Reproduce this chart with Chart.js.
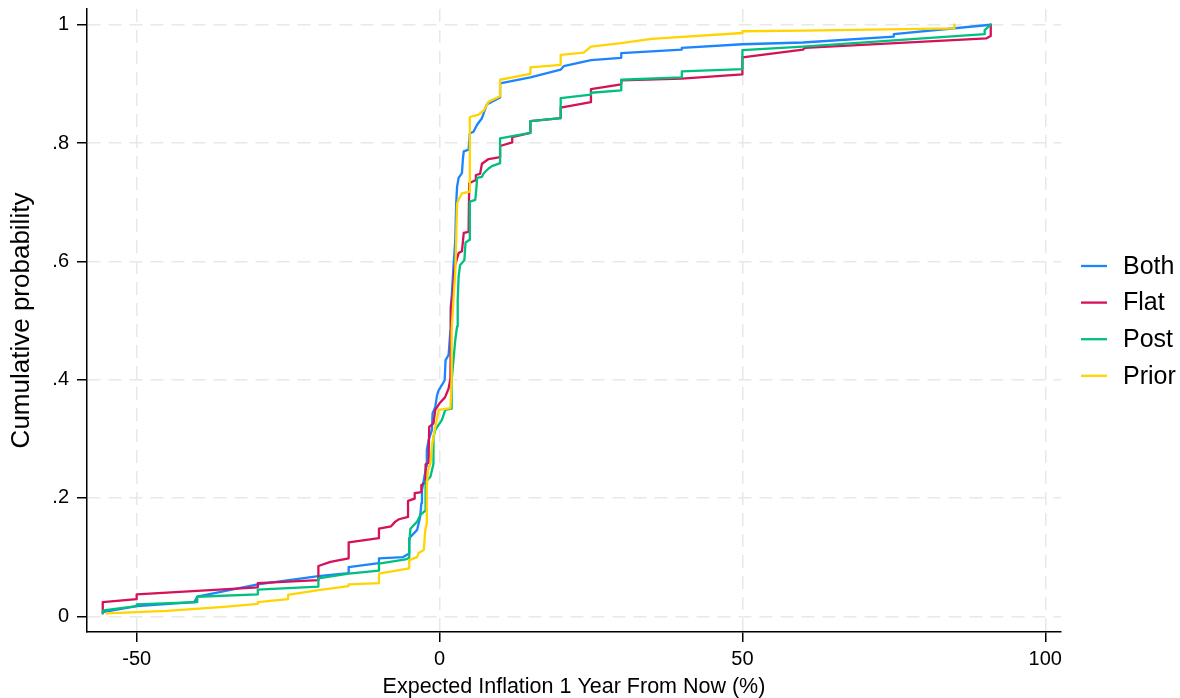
<!DOCTYPE html>
<html>
<head>
<meta charset="utf-8">
<script src="https://cdn.jsdelivr.net/npm/chart.js@4.4.1/dist/chart.umd.min.js"></script>
<style>
html,body{margin:0;padding:0;background:#fff;}
canvas{display:block;}
</style>
</head>
<body>
<canvas id="c" width="1180" height="698"></canvas>
<script>
// ---- data ----
const seriesNames = ['Both', 'Flat', 'Post', 'Prior'];
const seriesColors = ['#1a85ff', '#d41159', '#00bf7f', '#ffd400'];
const xTicks = [-50, 0, 50, 100];
const yTicks = [0, 0.2, 0.4, 0.6, 0.8, 1];
const yTickLabels = ['0', '.2', '.4', '.6', '.8', '1'];
const xTitle = 'Expected Inflation 1 Year From Now (%)';
const yTitle = 'Cumulative probability';

const bothX = [-55.6,-50,-40.5,-40,-30,-20,-15,-15,-10,-10,-6,-5,-5,-3.7,-3.2,-3,-2.9,-2.2,-2.1,-1.8,-1.25,-1.15,-0.7,-0.4,-0.15,0.4,0.85,1,1.5,1.8,1.85,2.05,2.3,2.6,2.75,2.9,3.15,3.7,3.85,4,4.8,5,5.6,6.2,7,7.8,10,10,15,20,20.5,25,30,30,40,40,50,60,75,75,91];
const bothY = [0.007,0.017,0.024,0.033,0.054,0.068,0.073,0.083,0.09,0.098,0.100,0.106,0.132,0.146,0.168,0.191,0.213,0.253,0.281,0.298,0.315,0.343,0.354,0.374,0.382,0.391,0.399,0.433,0.442,0.484,0.523,0.546,0.591,0.636,0.698,0.726,0.741,0.749,0.772,0.786,0.789,0.816,0.819,0.831,0.842,0.865,0.877,0.901,0.911,0.924,0.93,0.94,0.944,0.952,0.958,0.961,0.967,0.970,0.98,0.984,1.0];

const flatX = [-55.6,-55.6,-50,-50,-30,-30,-20,-20,-18,-15,-15,-10,-10,-8,-7.3,-6.7,-5.2,-5.2,-4.1,-4.1,-3,-3,-2.3,-2.3,-1.9,-1.8,-1.7,-1,-0.7,0,0.9,1.5,1.8,1.9,2.2,2.5,3.15,3.7,4,4.8,4.9,5.9,6,6.7,7,8.1,10,10,12,12,15,15,20,20,25,25,30,30,40,50,50,60,60.3,90.3,91,91];
const flatY = [0.005,0.024,0.029,0.037,0.049,0.056,0.061,0.085,0.092,0.098,0.125,0.132,0.148,0.152,0.16,0.164,0.168,0.195,0.199,0.208,0.21,0.222,0.226,0.257,0.259,0.27,0.32,0.326,0.349,0.36,0.37,0.385,0.402,0.523,0.546,0.591,0.614,0.617,0.648,0.65,0.732,0.737,0.746,0.748,0.765,0.773,0.776,0.795,0.801,0.81,0.817,0.837,0.842,0.86,0.869,0.891,0.899,0.906,0.909,0.916,0.945,0.958,0.961,0.977,0.981,1.0];

const postX = [-55.6,-55.5,-50,-50,-40,-40,-30,-30,-20,-20,-15,-10,-10,-5.6,-5,-5,-4.8,-3.7,-3.2,-2.3,-2.3,-1.5,-1,-1,-0.7,0.4,0.95,2,2,2.6,2.9,3,3.15,3.4,4.1,4.3,4.9,5,5.9,6.1,6.2,7,7.3,8.1,8.65,10,10,15,15,20,20,25,25,30,30,40,40,50,50,60,90,90,91];
const postY = [0.005,0.01,0.017,0.02,0.024,0.033,0.037,0.045,0.05,0.064,0.072,0.077,0.089,0.096,0.099,0.123,0.148,0.16,0.171,0.179,0.227,0.236,0.258,0.303,0.315,0.332,0.349,0.351,0.399,0.467,0.49,0.535,0.574,0.594,0.602,0.632,0.636,0.701,0.704,0.726,0.741,0.743,0.749,0.757,0.761,0.766,0.808,0.817,0.837,0.842,0.876,0.882,0.885,0.889,0.907,0.911,0.921,0.925,0.957,0.963,0.984,0.991,1.0];

const priorX = [-55,-45,-35.6,-30,-30,-25,-25,-20,-15,-15,-10,-10,-5,-5,-3.7,-3.45,-2.6,-2.35,-2.1,-2.1,-1.9,-1.5,-1.2,-0.8,-0.4,-0.15,1.8,2,2,2.3,2.6,2.9,3.15,3.7,5,5,6.45,7.3,8.1,10,10,15,15,20,20,23.8,25,30,35,50,50,60,85,85];
const priorY = [0.005,0.009,0.016,0.021,0.024,0.029,0.036,0.044,0.051,0.054,0.056,0.072,0.081,0.095,0.100,0.107,0.112,0.146,0.157,0.219,0.247,0.258,0.292,0.315,0.334,0.349,0.352,0.40,0.484,0.535,0.58,0.698,0.704,0.715,0.718,0.844,0.848,0.855,0.87,0.879,0.907,0.917,0.928,0.932,0.949,0.953,0.963,0.969,0.976,0.986,0.989,0.99,0.994,1.0];

const seriesX = [bothX, flatX, postX, priorX];
const seriesY = [bothY, flatY, postY, priorY];

// ---- chart ----
const FONT = "'Liberation Sans', Arial, Helvetica, sans-serif";

const datasets = seriesNames.map((name, i) => ({
  label: name,
  data: seriesX[i].map((x, k) => ({x: x, y: seriesY[i][k]})),
  showLine: true,
  borderColor: seriesColors[i],
  backgroundColor: seriesColors[i],
  borderWidth: 2.3,
  pointRadius: 0,
  pointHoverRadius: 0,
  tension: 0,
  borderJoinStyle: 'round',
  borderCapStyle: 'round',
  fill: false,
  order: seriesNames.length - i
}));

const legendPlugin = {
  id: 'sideLegend',
  afterDraw(chart) {
    const ctx = chart.ctx;
    const x0 = 1081, x1 = 1107, tx = 1123;
    const yStart = 266, dy = 36.6;
    ctx.save();
    ctx.font = '25px ' + FONT;
    ctx.textBaseline = 'middle';
    ctx.textAlign = 'left';
    chart.data.datasets.forEach((ds, i) => {
      const y = yStart + i * dy;
      ctx.strokeStyle = ds.borderColor;
      ctx.lineWidth = 2.3;
      ctx.beginPath();
      ctx.moveTo(x0, y);
      ctx.lineTo(x1, y);
      ctx.stroke();
      ctx.fillStyle = '#000';
      ctx.fillText(ds.label, tx, y + 1);
    });
    ctx.restore();
  }
};

new Chart(document.getElementById('c'), {
  type: 'scatter',
  data: { datasets },
  plugins: [legendPlugin],
  options: {
    responsive: false,
    animation: false,
    devicePixelRatio: 1,
    layout: { padding: { top: 9, right: 119, left: 0, bottom: 0 } },
    plugins: {
      legend: { display: false },
      tooltip: { enabled: false },
      title: { display: false }
    },
    scales: {
      x: {
        type: 'linear',
        min: -58.2,
        max: 102.6,
        afterBuildTicks: (s) => { s.ticks = xTicks.map(v => ({value: v})); },
        afterFit: (s) => { s.height = 66; s.paddingLeft = 0; s.paddingRight = 0; },
        ticks: {
          color: '#000',
          font: { family: FONT, size: 20 },
          padding: 5,
          maxRotation: 0,
          autoSkip: false,
          callback: (v) => String(v)
        },
        grid: {
          color: '#e8e8e8',
          lineWidth: 1.5,
          drawTicks: true,
          tickLength: 10,
          tickColor: '#000',
          tickWidth: 1.5
        },
        border: { display: true, color: '#000', width: 1.5, dash: [13, 8] },
        title: {
          display: true,
          text: xTitle,
          color: '#000',
          font: { family: FONT, size: 21.5, lineHeight: 1 },
          padding: { top: 0, bottom: 0 }
        }
      },
      y: {
        type: 'linear',
        min: -0.0266,
        max: 1.0266,
        afterBuildTicks: (s) => { s.ticks = yTicks.map(v => ({value: v})); },
        afterFit: (s) => { s.width = 87; s.paddingTop = 0; s.paddingBottom = 0; },
        ticks: {
          color: '#000',
          font: { family: FONT, size: 20 },
          padding: 8,
          autoSkip: false,
          callback: (v) => {
            const idx = yTicks.findIndex(t => Math.abs(t - v) < 1e-9);
            return idx >= 0 ? yTickLabels[idx] : '';
          }
        },
        grid: {
          color: '#e8e8e8',
          lineWidth: 1.5,
          drawTicks: true,
          tickLength: 10,
          tickColor: '#000',
          tickWidth: 1.5
        },
        border: { display: true, color: '#000', width: 1.5, dash: [13, 8] },
        title: {
          display: true,
          text: yTitle,
          color: '#000',
          font: { family: FONT, size: 26, lineHeight: 1.2 },
          padding: { top: 6, bottom: 0 }
        }
      }
    }
  }
});
</script>
</body>
</html>
